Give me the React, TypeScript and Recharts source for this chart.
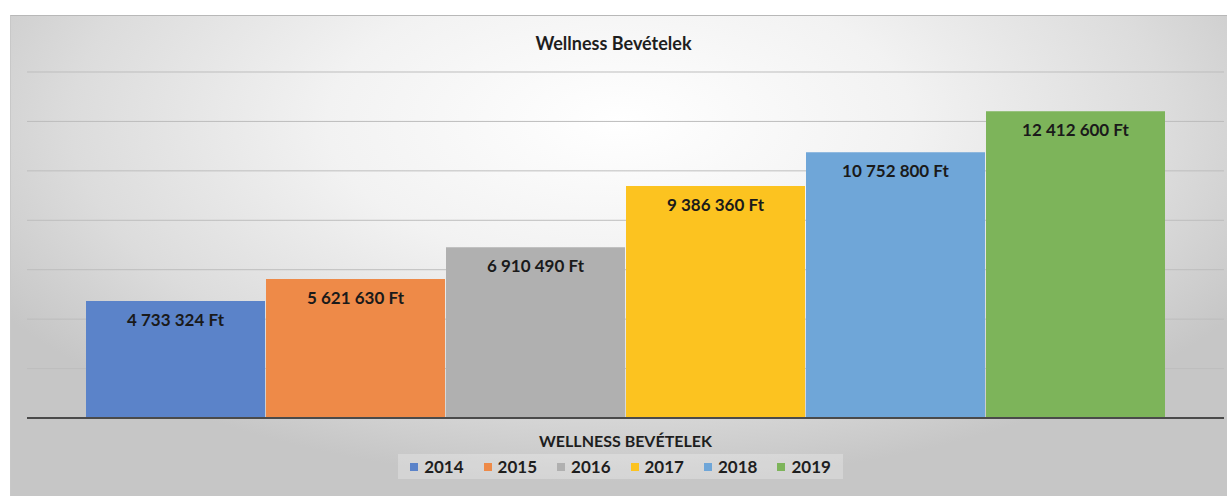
import { Bar, BarChart, CartesianGrid, LabelList, XAxis, YAxis } from "recharts";

const category = "WELLNESS BEVÉTELEK";
const years = ["2014", "2015", "2016", "2017", "2018", "2019"];
const revenues = [4733324, 5621630, 6910490, 9386360, 10752800, 12412600];
const barColors = ["#5b83c9", "#ee8a48", "#b0b0b0", "#fcc320", "#6fa6d8", "#7db45a"];
const yTicks = [0, 2000000, 4000000, 6000000, 8000000, 10000000, 12000000, 14000000];

const row: Record<string, string | number> = { name: category };
years.forEach((y, i) => {
  row[y] = revenues[i];
});
const data = [row];

const font = "Lato, 'Open Sans', sans-serif";

const formatFt = (v: number) =>
  String(v).replace(/\B(?=(\d{3})+(?!\d))/g, " ") + " Ft";

// legend drawn outside the svg so it doesn't eat plot height
function LegendBox() {
  return (
    <div
      style={{
        position: "absolute",
        left: 0,
        top: 454,
        width: 1227,
        display: "flex",
        justifyContent: "center",
      }}
    >
      <div
        style={{
          display: "flex",
          gap: 20,
          padding: "2px 12px",
          marginLeft: 14,
          background: "rgba(255,255,255,0.25)",
          fontFamily: font,
          fontWeight: 700,
          fontSize: 17,
          color: "#1e1e1e",
        }}
      >
        {years.map((y, i) => (
          <div key={y} style={{ display: "flex", alignItems: "center" }}>
            <span
              style={{
                width: 8,
                height: 8,
                background: barColors[i],
                marginRight: 6,
                display: "inline-block",
              }}
            />
            {y}
          </div>
        ))}
      </div>
    </div>
  );
}

export default function App() {
  return (
    <div
      style={{
        position: "absolute",
        left: 0,
        top: 0,
        width: 1227,
        height: 496,
        background: "#fff",
        overflow: "hidden",
      }}
    >
      <div
        style={{
          position: "absolute",
          left: 10,
          top: 15,
          width: 1217,
          height: 481,
          borderTop: "1px solid #b8b8b8",
          borderLeft: "1px solid #c8c8c8",
          background:
            "radial-gradient(ellipse 60% 75% at 50% 22%, #ffffff 0%, #f2f2f2 40%, #dcdcdc 75%, #c6c6c6 100%)",
        }}
      />
      <div
        style={{
          position: "absolute",
          left: 0,
          top: 32,
          width: 1227,
          textAlign: "center",
          fontFamily: font,
          fontWeight: 700,
          fontSize: 18,
          color: "#1e1e1e",
        }}
      >
        Wellness Bevételek
      </div>
      <div style={{ position: "absolute", left: 0, top: 0 }}>
        <BarChart
          width={1227}
          height={496}
          data={data}
          margin={{ top: 72, right: 3, left: 27, bottom: 0 }}
          barCategoryGap={59}
          barGap={1}
        >
          <CartesianGrid vertical={false} stroke="#bdbdbd" strokeWidth={1} />
          <XAxis
            dataKey="name"
            height={78}
            axisLine={{ stroke: "#4a4a4a", strokeWidth: 2 }}
            tickLine={false}
            tickMargin={12}
            tick={{ fontFamily: font, fontWeight: 700, fontSize: 16, fill: "#1e1e1e" }}
          />
          <YAxis hide width={0} domain={[0, 14000000]} ticks={yTicks} />
          {years.map((y, i) => (
            <Bar key={y} dataKey={y} fill={barColors[i]} isAnimationActive={false}>
              <LabelList
                dataKey={y}
                position="insideTop"
                offset={13}
                formatter={(v: number) => formatFt(v)}
                style={{ fontFamily: font, fontWeight: 700, fontSize: 17, fill: "#1a1a1a" }}
              />
            </Bar>
          ))}
        </BarChart>
      </div>
      <LegendBox />
    </div>
  );
}
